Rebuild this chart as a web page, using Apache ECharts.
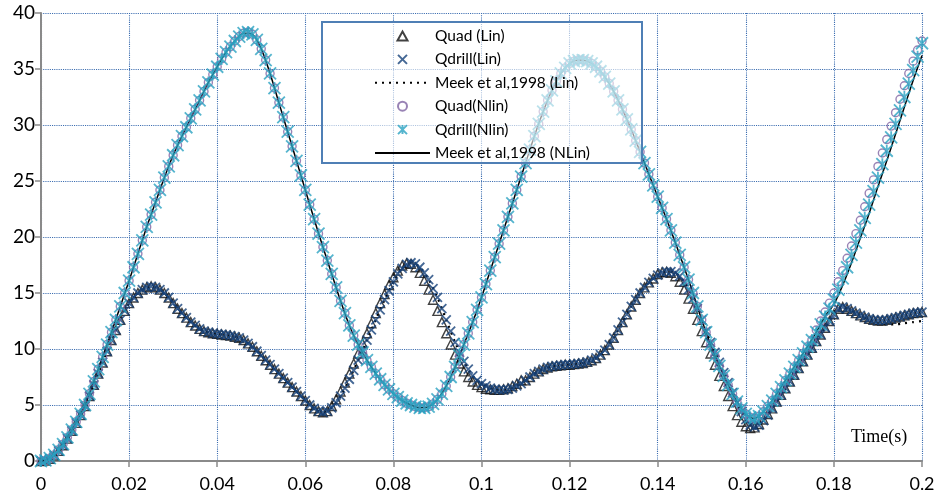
<!DOCTYPE html>
<html>
<head>
<meta charset="utf-8">
<script src="https://cdn.jsdelivr.net/npm/echarts@6/dist/echarts.min.js"></script>
<style>
  html, body { margin: 0; padding: 0; background: #fff; }
  #chart { width: 938px; height: 501px; }
</style>
</head>
<body>
<div id="chart"></div>
<script>
// sample step of the marker series (s)
var step = 0.001
var meekStep = 0.002

// Qdrill (Lin) - lower curve
var linQdrill = [
  0, 0.05, 0.2, 0.5, 0.9, 1.4, 2.0, 2.7, 3.4, 4.1,
  4.9, 5.8, 6.8, 7.8, 8.8, 9.8, 10.8, 11.7, 12.6, 13.4,
  14.1, 14.6, 15.0, 15.3, 15.5, 15.6, 15.5, 15.3, 15.0, 14.6,
  14.1, 13.6, 13.2, 12.8, 12.4, 12.1, 11.8, 11.6, 11.5, 11.4,
  11.35, 11.3, 11.25, 11.2, 11.1, 11.0, 10.8, 10.5, 10.2, 9.8,
  9.4, 9.0, 8.6, 8.2, 7.8, 7.4, 7.0, 6.6, 6.2, 5.8,
  5.4, 5.0, 4.7, 4.45, 4.35, 4.45, 4.75, 5.2, 5.8, 6.5,
  7.3, 8.1, 9.0, 9.9, 10.8, 11.7, 12.6, 13.5, 14.4, 15.2,
  16.0, 16.7, 17.2, 17.55, 17.7, 17.6, 17.3, 16.8, 16.2, 15.4,
  14.6, 13.6, 12.6, 11.6, 10.6, 9.7, 8.9, 8.2, 7.6, 7.2,
  6.9, 6.7, 6.5, 6.4, 6.35, 6.35, 6.4, 6.5, 6.7, 6.9,
  7.2, 7.5, 7.8, 8.0, 8.2, 8.35, 8.45, 8.5, 8.55, 8.6,
  8.6, 8.65, 8.7, 8.75, 8.85, 9.0, 9.2, 9.5, 9.9, 10.4,
  11.0, 11.7, 12.4, 13.1, 13.8, 14.4, 15.0, 15.5, 15.95, 16.3,
  16.6, 16.8, 16.9, 16.9, 16.8, 16.5, 16.0, 15.3, 14.5, 13.6,
  12.6, 11.6, 10.6, 9.7, 8.8, 7.9, 7.0, 6.1, 5.2, 4.4,
  3.7, 3.2, 3.05, 3.2, 3.6, 4.1, 4.7, 5.3, 5.9, 6.5,
  7.1, 7.7, 8.3, 8.9, 9.5, 10.1, 10.7, 11.3, 11.9, 12.5,
  13.1, 13.6, 13.75, 13.6, 13.4, 13.2, 13.0, 12.85, 12.7, 12.6,
  12.55, 12.55, 12.6, 12.7, 12.8, 12.9, 13.0, 13.1, 13.2, 13.25,
  13.3
]

// Quad (Lin) - triangles, slightly ahead on the steep parts
var linQuad = [
  0, 0.05, 0.2, 0.5, 0.9, 1.4, 2.0, 2.7, 3.4, 4.1,
  4.9, 5.8, 6.8, 7.8, 8.8, 9.8, 10.8, 11.7, 12.6, 13.4,
  14.1, 14.6, 15.0, 15.3, 15.5, 15.6, 15.5, 15.3, 15.0, 14.6,
  14.1, 13.6, 13.2, 12.8, 12.4, 12.1, 11.8, 11.6, 11.5, 11.4,
  11.35, 11.3, 11.25, 11.2, 11.1, 11.0, 10.8, 10.5, 10.2, 9.8,
  9.4, 9.0, 8.6, 8.2, 7.8, 7.4, 7.0, 6.6, 6.2, 5.8,
  5.4, 5.0, 4.7, 4.45, 4.35, 4.45, 4.9, 5.5, 6.2, 7.0,
  7.8, 8.7, 9.6, 10.5, 11.4, 12.3, 13.2, 14.1, 14.9, 15.7,
  16.4, 17.0, 17.45, 17.65, 17.6, 17.3, 16.8, 16.1, 15.3, 14.4,
  13.4, 12.4, 11.4, 10.4, 9.5, 8.7, 8.0, 7.5, 7.1, 6.8,
  6.6, 6.45, 6.4, 6.35, 6.35, 6.4, 6.5, 6.7, 6.9, 7.2,
  7.2, 7.5, 7.8, 8.0, 8.2, 8.35, 8.45, 8.5, 8.55, 8.6,
  8.6, 8.65, 8.7, 8.75, 8.85, 9.0, 9.2, 9.5, 9.9, 10.4,
  11.0, 11.7, 12.4, 13.1, 13.8, 14.4, 15.0, 15.5, 15.95, 16.3,
  16.7, 16.85, 16.9, 16.8, 16.5, 16.0, 15.3, 14.5, 13.6, 12.6,
  11.6, 10.6, 9.6, 8.6, 7.6, 6.7, 5.8, 4.9, 4.1, 3.5,
  3.1, 2.95, 3.0, 3.3, 3.7, 4.2, 4.7, 5.3, 5.9, 6.5,
  7.1, 7.7, 8.3, 8.9, 9.5, 10.1, 10.7, 11.3, 11.9, 12.5,
  13.1, 13.6, 13.75, 13.6, 13.4, 13.2, 13.0, 12.85, 12.7, 12.6,
  12.55, 12.55, 12.6, 12.7, 12.8, 12.9, 13.0, 13.1, 13.2, 13.25,
  13.3
]

// Qdrill (Nlin) - upper curve
var nlinQdrill = [
  0, 0.05, 0.25, 0.55, 1.0, 1.5, 2.1, 2.8, 3.5, 4.2,
  5.0, 6.0, 7.1, 8.2, 9.3, 10.4, 11.5, 12.6, 13.8, 15.0,
  16.1, 17.3, 18.5, 19.7, 20.9, 22.0, 23.1, 24.2, 25.3, 26.3,
  27.3, 28.2, 29.0, 29.8, 30.6, 31.4, 32.2, 33.0, 33.8, 34.5,
  35.2, 35.9, 36.5, 37.0, 37.5, 37.9, 38.2, 38.3, 38.1, 37.6,
  36.8, 35.8, 34.6, 33.3, 32.0, 30.7, 29.4, 28.1, 26.8, 25.5,
  24.2, 22.9, 21.6, 20.3, 19.1, 17.9, 16.7, 15.5, 14.3, 13.2,
  12.1, 11.2, 10.4, 9.7, 9.0, 8.4, 7.8, 7.3, 6.8, 6.4,
  6.0, 5.7, 5.4, 5.15, 5.0, 4.85, 4.75, 4.75, 4.85, 5.1,
  5.5, 6.0, 6.7, 7.5, 8.4, 9.4, 10.4, 11.4, 12.4, 13.5,
  14.6, 15.8, 17.0, 18.2, 19.4, 20.6, 21.8, 23.0, 24.2, 25.4,
  26.6, 27.8, 29.0, 30.1, 31.2, 32.2, 33.1, 33.9, 34.6, 35.1,
  35.5, 35.7, 35.8, 35.8, 35.7, 35.5, 35.2, 34.8, 34.3, 33.7,
  33.0, 32.2, 31.4, 30.5, 29.6, 28.6, 27.6, 26.6, 25.6, 24.6,
  23.6, 22.6, 21.6, 20.6, 19.5, 18.4, 17.3, 16.2, 15.0, 13.8,
  12.6, 11.5, 10.4, 9.4, 8.5, 7.6, 6.8, 6.0, 5.3, 4.7,
  4.2, 3.9, 3.8, 4.0, 4.4, 4.9, 5.4, 6.0, 6.6, 7.2,
  7.8, 8.4, 9.0, 9.6, 10.2, 10.8, 11.5, 12.2, 12.9, 13.6,
  14.4, 15.3, 16.3, 17.3, 18.4, 19.5, 20.6, 21.7, 22.9, 24.1,
  25.3, 26.5, 27.7, 28.9, 30.1, 31.3, 32.5, 33.7, 34.9, 36.1,
  37.3
]

// Quad (Nlin) - circles, a little above on the last rise
var nlinQuad = [
  0, 0.05, 0.25, 0.55, 1.0, 1.5, 2.1, 2.8, 3.5, 4.2,
  5.0, 6.0, 7.1, 8.2, 9.3, 10.4, 11.5, 12.6, 13.8, 15.0,
  16.1, 17.3, 18.5, 19.7, 20.9, 22.0, 23.1, 24.2, 25.3, 26.3,
  27.3, 28.2, 29.0, 29.8, 30.6, 31.4, 32.2, 33.0, 33.8, 34.5,
  35.2, 35.9, 36.5, 37.0, 37.5, 37.9, 38.2, 38.3, 38.1, 37.6,
  36.8, 35.8, 34.6, 33.3, 32.0, 30.7, 29.4, 28.1, 26.8, 25.5,
  24.2, 22.9, 21.6, 20.3, 19.1, 17.9, 16.7, 15.5, 14.3, 13.2,
  12.1, 11.2, 10.4, 9.7, 9.0, 8.4, 7.8, 7.3, 6.8, 6.4,
  6.0, 5.7, 5.4, 5.15, 5.0, 4.85, 4.75, 4.75, 4.85, 5.1,
  5.5, 6.0, 6.7, 7.5, 8.4, 9.4, 10.4, 11.4, 12.4, 13.5,
  14.6, 15.8, 17.0, 18.2, 19.4, 20.6, 21.8, 23.0, 24.2, 25.4,
  26.6, 27.8, 29.0, 30.1, 31.2, 32.2, 33.1, 33.9, 34.6, 35.1,
  35.5, 35.7, 35.8, 35.8, 35.7, 35.5, 35.2, 34.8, 34.3, 33.7,
  33.0, 32.2, 31.4, 30.5, 29.6, 28.6, 27.6, 26.6, 25.6, 24.6,
  23.6, 22.6, 21.6, 20.6, 19.5, 18.4, 17.3, 16.2, 15.0, 13.8,
  12.6, 11.5, 10.4, 9.4, 8.5, 7.6, 6.8, 6.0, 5.3, 4.7,
  4.2, 3.9, 3.8, 4.0, 4.4, 4.9, 5.4, 6.0, 6.6, 7.2,
  7.8, 8.4, 9.0, 9.6, 10.2, 10.8, 11.7, 12.5, 13.3, 14.1,
  15.0, 16.0, 17.0, 18.1, 19.2, 20.3, 21.5, 22.7, 23.9, 25.1,
  26.3, 27.5, 28.7, 29.9, 31.1, 32.3, 33.5, 34.6, 35.7, 36.7,
  37.5
]

// Meek et al. 1998 reference curves (every 0.002 s)
var meekLin = [
  0, 0.2, 0.9, 2.0, 3.4, 4.9, 6.8, 8.8, 10.8, 12.6,
  14.1, 15.0, 15.5, 15.5, 15.0, 14.1, 13.2, 12.4, 11.8, 11.5,
  11.35, 11.25, 11.1, 10.8, 10.2, 9.4, 8.6, 7.8, 7.0, 6.2,
  5.4, 4.7, 4.35, 4.75, 5.8, 7.3, 9.0, 10.8, 12.6, 14.4,
  16.0, 17.2, 17.7, 17.3, 16.2, 14.6, 12.6, 10.6, 8.9, 7.6,
  6.9, 6.5, 6.35, 6.4, 6.7, 7.2, 7.8, 8.2, 8.45, 8.55,
  8.6, 8.7, 8.85, 9.2, 9.9, 11.0, 12.4, 13.8, 15.0, 15.95,
  16.6, 16.9, 16.8, 16.0, 14.5, 12.6, 10.6, 8.8, 7.0, 5.2,
  3.7, 2.9, 3.6, 4.7, 5.9, 7.1, 8.3, 9.5, 10.7, 11.9,
  13.1, 13.75, 13.4, 13.0, 12.6, 12.3, 12.2, 12.2, 12.3, 12.4,
  12.5
]
var meekNLin = [
  0, 0.25, 1.0, 2.1, 3.5, 5.0, 7.1, 9.3, 11.5, 13.8,
  16.1, 18.5, 20.9, 23.1, 25.3, 27.3, 29.0, 30.6, 32.2, 33.8,
  35.2, 36.5, 37.5, 38.2, 38.1, 36.8, 34.6, 32.0, 29.4, 26.8,
  24.2, 21.6, 19.1, 16.7, 14.3, 12.1, 10.4, 9.0, 7.8, 6.8,
  6.0, 5.4, 5.0, 4.75, 4.85, 5.5, 6.7, 8.4, 10.4, 12.4,
  14.6, 17.0, 19.4, 21.8, 24.2, 26.6, 29.0, 31.2, 33.1, 34.6,
  35.5, 35.8, 35.7, 35.2, 34.3, 33.0, 31.4, 29.6, 27.6, 25.6,
  23.6, 21.6, 19.5, 17.3, 15.0, 12.6, 10.4, 8.5, 6.8, 5.3,
  4.2, 3.8, 4.4, 5.4, 6.6, 7.8, 9.0, 10.2, 11.5, 12.9,
  14.0, 15.7, 17.7, 19.9, 22.1, 24.5, 26.8, 29.2, 31.6, 34.0,
  36.2
]

var seriesNames = ['Quad (Lin)', 'Qdrill(Lin)', 'Meek et al,1998 (Lin)',
  'Quad(Nlin)', 'Qdrill(Nlin)', 'Meek et al,1998 (NLin)']

function pairs(values, dt) {
  return values.map(function (v, i) { return [+(i * dt).toFixed(4), v] })
}

var triMark = 'path://M5,0L10,9L0,9Z'
var xMark = 'path://M0,0L10,10M10,0L0,10'
var starMark = 'path://M0,0L10,10M10,0L0,10M5,0L5,10'
var gridColor = '#3a6cb0'
var axisGray = '#8a8a8a'
// hide the dot that echarts puts on a line legend icon
var noDot = { opacity: 0 }

var myChart = echarts.init(document.getElementById('chart'))
var option = {
  animation: false,
  grid: { left: 41, right: 16, top: 13, bottom: 40 },
  xAxis: {
    type: 'value',
    min: 0,
    max: 0.2,
    interval: 0.02,
    axisLine: { lineStyle: { color: axisGray, width: 2 } },
    axisTick: { show: true, length: 6, lineStyle: { color: axisGray, width: 1.5 } },
    axisLabel: { color: '#000', fontSize: 18, fontFamily: 'Lato', margin: 14 },
    splitLine: { show: true, lineStyle: { color: gridColor, type: 'dotted', width: 1.1 } }
  },
  yAxis: {
    type: 'value',
    min: 0,
    max: 40,
    interval: 5,
    axisLine: { show: true, lineStyle: { color: axisGray, width: 2 } },
    axisTick: { show: true, length: 6, lineStyle: { color: axisGray, width: 1.5 } },
    axisLabel: { color: '#000', fontSize: 19, fontFamily: 'Lato', margin: 6 },
    splitLine: { show: true, lineStyle: { color: gridColor, type: 'dotted', width: 1.1 } }
  },
  legend: {
    orient: 'vertical',
    left: 322,
    top: 22,
    padding: [6, 10, 4, 52],
    itemWidth: 55,
    itemHeight: 9,
    itemGap: 7.4,
    symbolKeepAspect: true,
    data: [
      { name: seriesNames[0], icon: triMark },
      { name: seriesNames[1] },
      { name: seriesNames[2], itemStyle: noDot },
      { name: seriesNames[3] },
      { name: seriesNames[4] },
      { name: seriesNames[5], itemStyle: noDot }
    ],
    textStyle: { color: '#000', fontSize: 15.5, fontFamily: 'Lato' }
  },
  graphic: [
    {
      type: 'rect',
      z: 3,
      shape: { x: 322, y: 22, width: 320, height: 141 },
      style: { fill: 'rgba(255,255,255,0.6)', stroke: '#4f7fb5', lineWidth: 2 }
    },
    {
      type: 'text',
      z: 3,
      x: 851,
      y: 428,
      style: { text: 'Time(s)', fill: '#000', fontSize: 18, fontFamily: 'Liberation Serif' }
    }
  ],
  series: [
    {
      name: seriesNames[0],
      type: 'scatter',
      symbol: triMark,
      symbolSize: 9,
      itemStyle: { color: 'rgba(0,0,0,0)', borderColor: '#111', borderWidth: 1.4 },
      data: pairs(linQuad, step)
    },
    {
      name: seriesNames[1],
      type: 'scatter',
      symbol: xMark,
      symbolSize: 9,
      itemStyle: { color: 'rgba(0,0,0,0)', borderColor: '#17427a', borderWidth: 1.8 },
      data: pairs(linQdrill, step)
    },
    {
      name: seriesNames[2],
      type: 'line',
      z: 1,
      symbol: 'none',
      smooth: 0.3,
      lineStyle: { color: '#000', width: 2.2, type: [2, 5] },
      itemStyle: { color: '#000' },
      data: pairs(meekLin, meekStep)
    },
    {
      name: seriesNames[3],
      type: 'scatter',
      symbol: 'circle',
      symbolSize: 8,
      itemStyle: { color: 'rgba(0,0,0,0)', borderColor: '#8064a2', borderWidth: 1.4 },
      data: pairs(nlinQuad, step)
    },
    {
      name: seriesNames[4],
      type: 'scatter',
      symbol: starMark,
      symbolSize: 12,
      itemStyle: { color: 'rgba(0,0,0,0)', borderColor: '#2aa3c2', borderWidth: 1.8 },
      data: pairs(nlinQdrill, step)
    },
    {
      name: seriesNames[5],
      type: 'line',
      z: 1,
      symbol: 'none',
      smooth: 0.3,
      lineStyle: { color: '#000', width: 1.5 },
      itemStyle: { color: '#000' },
      data: pairs(meekNLin, meekStep)
    }
  ]
}
myChart.setOption(option)
</script>
</body>
</html>
